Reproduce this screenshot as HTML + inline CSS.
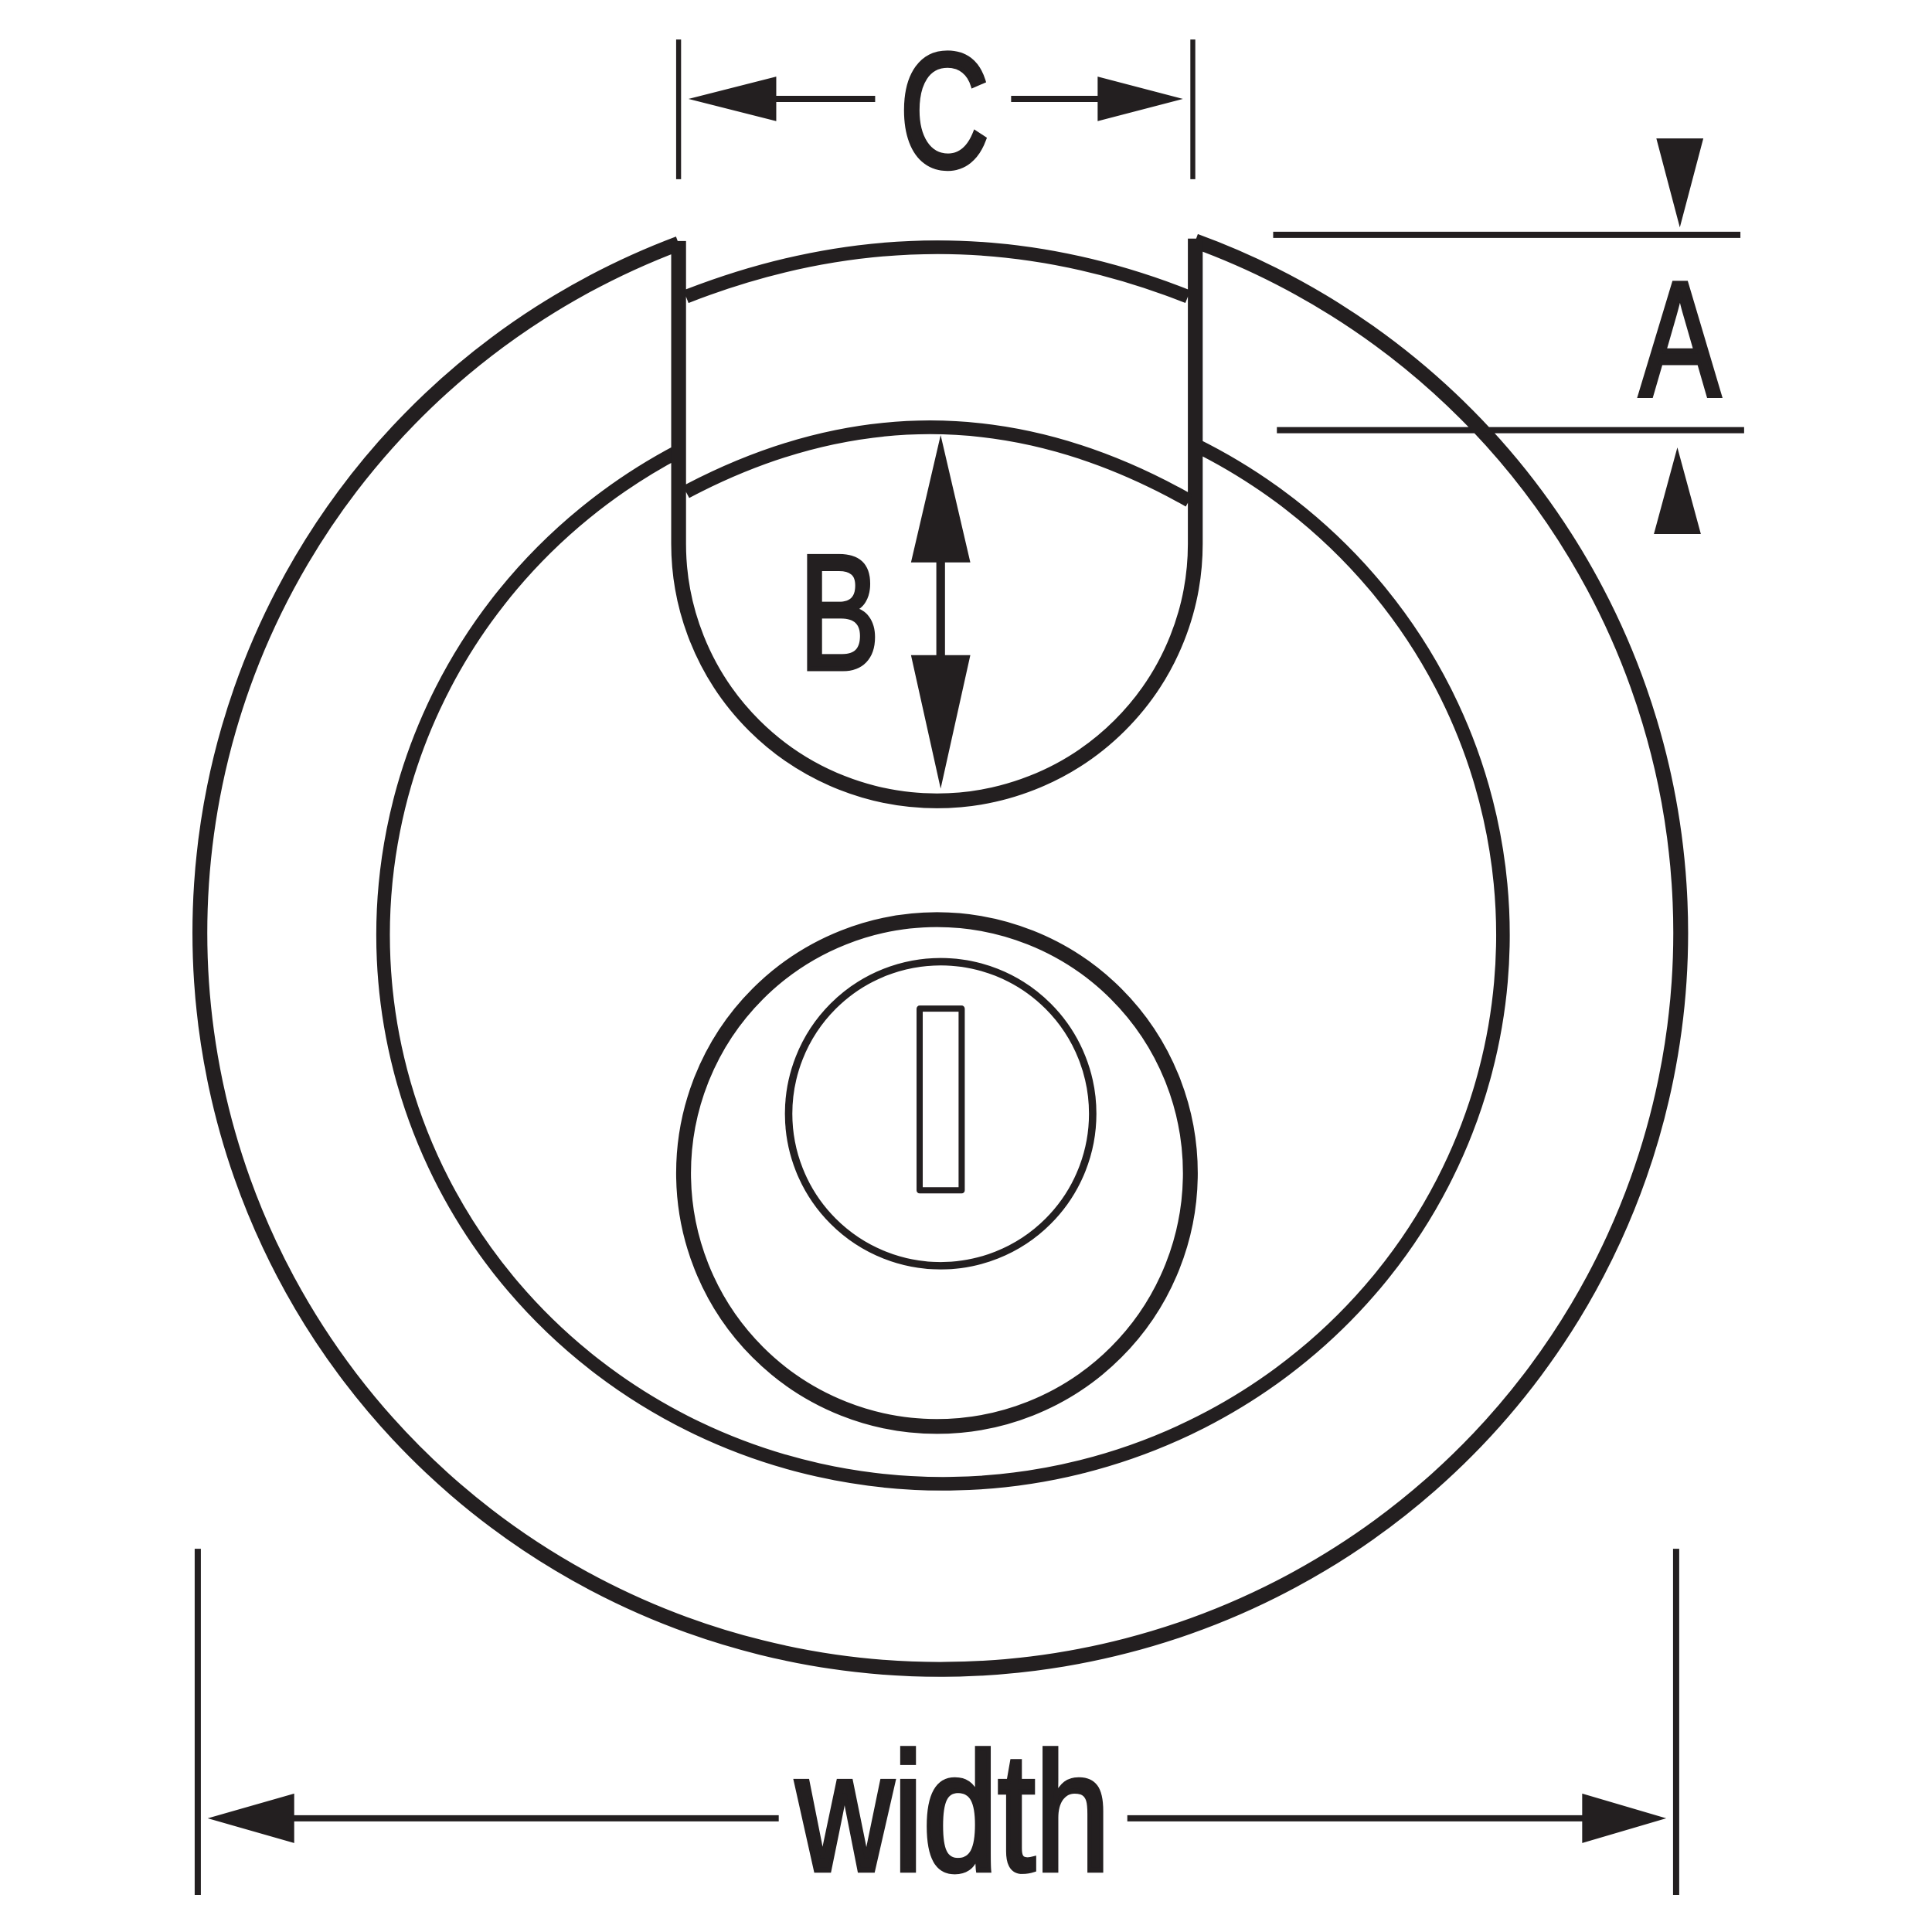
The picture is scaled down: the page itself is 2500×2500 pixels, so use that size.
<!DOCTYPE html>
<html><head><meta charset="utf-8"><style>html,body{margin:0;padding:0;background:#fff}svg{display:block}</style></head>
<body>
<svg width="2500" height="2500" viewBox="0 0 1563 1563" xmlns="http://www.w3.org/2000/svg">
<g fill="none" stroke="#231f20" stroke-linejoin="round">
<path d="M549,197 A599,596 0 1,0 967,195" stroke-width="12"/>
<path d="M549,365 A453,444 0 1,0 967,360" stroke-width="11"/>
<path d="M549,195 L549,440 A209,208 0 0,0 967,440 L967,193" stroke-width="12"/>
<path d="M555,240 Q759,160 961,240" stroke-width="11"/>
<path d="M555,398 Q759,290 962,405" stroke-width="11"/>
<circle cx="758" cy="949" r="205" stroke-width="12"/>
<circle cx="761" cy="901" r="123" stroke-width="6"/>
<rect x="744" y="816" width="34" height="147" stroke-width="5"/>
<line x1="761" y1="440" x2="761" y2="540" stroke-width="7"/>
<line x1="549" y1="32" x2="549" y2="145" stroke-width="4"/>
<line x1="965" y1="32" x2="965" y2="145" stroke-width="4"/>
<line x1="620" y1="80" x2="708" y2="80" stroke-width="5"/>
<line x1="818" y1="80" x2="895" y2="80" stroke-width="5"/>
<line x1="1030" y1="190" x2="1408" y2="190" stroke-width="5"/>
<line x1="1033" y1="348" x2="1411" y2="348" stroke-width="5"/>
<line x1="160" y1="1253" x2="160" y2="1533" stroke-width="5"/>
<line x1="1356" y1="1253" x2="1356" y2="1533" stroke-width="5"/>
<line x1="230" y1="1471" x2="630" y2="1471" stroke-width="5"/>
<line x1="912" y1="1471" x2="1288" y2="1471" stroke-width="5"/>
</g>
<g fill="#231f20">
<polygon points="761,352 737,455 785,455"/>
<polygon points="761,638 737,530 785,530"/>
<polygon points="557,80 628,62 628,98"/>
<polygon points="957,80 888,62 888,98"/>
<polygon points="1340,112 1378,112 1359,184"/>
<polygon points="1357,362 1338,432 1376,432"/>
<polygon points="168,1471 238,1451 238,1491"/>
<polygon points="1348,1471 1280,1451 1280,1491"/>
</g>
<g font-family="Liberation Sans, sans-serif" fill="#231f20" stroke="#231f20" stroke-width="4" text-anchor="middle">
<text transform="translate(679,541) scale(0.74,1)" font-size="132">B</text>
<text transform="translate(764,135) scale(0.76,1)" font-size="132">C</text>
<text transform="translate(1359,320) scale(0.74,1)" font-size="132">A</text>
<text transform="translate(771,1513) scale(0.80,1)" font-size="136">width</text>
</g>
</svg>
</body></html>
